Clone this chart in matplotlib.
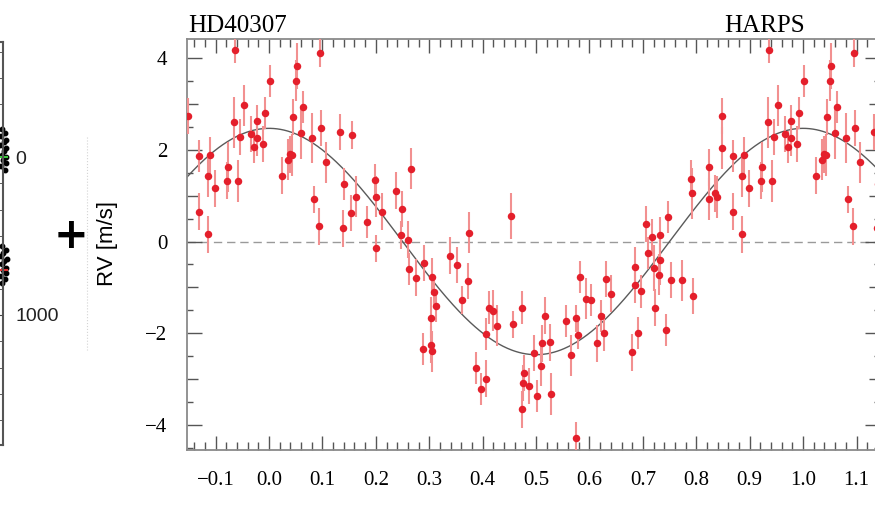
import numpy as np
import matplotlib
matplotlib.use("Agg")
import matplotlib.pyplot as plt
from matplotlib.ticker import MultipleLocator, FuncFormatter
from matplotlib.lines import Line2D

# HD40307 HARPS residual RVs, folded on the orbital period (phase, m/s)
phase = [
    -0.152, -0.132, -0.131, -0.114, -0.110, -0.114, -0.101, -0.077, -0.078, -0.059,
    -0.065, -0.064, -0.054, -0.047, -0.033, -0.029, -0.023, -0.022, -0.011, -0.007,
    0.001, 0.024, 0.035, 0.039, 0.043, 0.044, 0.051, 0.053, 0.060, 0.064,
    0.081, 0.084, 0.093, 0.095, 0.098, 0.107, 0.132, 0.138, 0.141, 0.155,
    0.154, 0.162, 0.183, 0.198, 0.200, 0.201, 0.212, 0.237, 0.247, 0.249,
    0.260, 0.266, 0.291, 0.339, 0.352, 0.375, 0.453, 0.263, 0.275, 0.306,
    0.372, 0.309, 0.361, 0.313, 0.303, 0.411, 0.419, 0.426, 0.406, 0.457,
    0.474, 0.517, 0.556, 0.289, 0.303, 0.306, 0.388, 0.396, 0.407, 0.496,
    0.511, 0.526, 0.509, 0.478, 0.475, 0.487, 0.502, 0.528, 0.473, 0.565,
    0.574, 0.579, 0.582, 0.594, 0.603, 0.575, 0.621, 0.628, 0.615, 0.631,
    0.640, 0.680, 0.690, 0.686, 0.685, 0.697, 0.710, 0.720, 0.731, 0.732,
    0.717, 0.706, 0.732, 0.747, 0.722, 0.743, 0.752, 0.774, 0.793, 0.790,
    0.792, 0.824, 0.824, 0.835, 0.838, 0.849,
]
rv = [
    2.74, 1.86, 0.65, 1.43, 1.88, 0.16, 1.16, 1.63, 1.33, 1.32,
    2.60, 4.19, 2.28, 2.97, 2.35, 2.07, 2.64, 2.27, 2.13, 2.80,
    3.50, 1.44, 1.79, 1.90, 1.89, 2.72, 3.51, 3.83, 2.36, 2.93,
    2.26, 0.92, 0.33, 4.11, 2.48, 1.73, 2.39, 0.29, 1.26, 2.32,
    0.62, 0.98, 0.43, 1.35, -0.15, 0.98, 0.65, 1.11, 0.14, 0.71,
    0.04, 1.59, -0.47, -0.31, -0.51, 0.19, 0.56, -0.60, -0.79, -0.77,
    -0.86, -1.11, -1.28, -1.40, -1.66, -1.44, -1.51, -1.84, -2.02, -1.81,
    -1.44, -1.62, -1.73, -2.35, -2.25, -2.40, -2.77, -3.22, -2.99, -2.43,
    -2.22, -2.20, -2.71, -2.87, -3.09, -3.15, -3.38, -3.33, -3.66, -2.48,
    -1.68, -2.04, -0.77, -1.25, -1.28, -4.29, -1.62, -1.99, -2.22, -0.82,
    -1.14, -2.42, -1.99, -0.56, -0.95, -1.09, -0.26, -0.57, -0.72, -0.40,
    0.09, 0.38, 0.14, 0.54, -1.44, -1.93, -0.84, -0.85, -1.19, 1.37,
    1.05, 1.62, 0.93, 1.05, 0.97, 2.04,
]
rv_err = [
    0.40, 0.35, 0.40, 0.45, 0.40, 0.40, 0.40, 0.55, 0.40, 0.45,
    0.55, 0.30, 0.40, 0.45, 0.40, 0.35, 0.35, 0.40, 0.40, 0.35,
    0.35, 0.40, 0.45, 0.40, 0.45, 0.40, 0.45, 0.50, 0.55, 0.35,
    0.55, 0.30, 0.40, 0.30, 0.40, 0.45, 0.40, 0.40, 0.35, 0.30,
    0.40, 0.45, 0.35, 0.35, 0.30, 0.45, 0.40, 0.40, 0.30, 0.40,
    0.40, 0.45, 0.40, 0.40, 0.40, 0.45, 0.50, 0.35, 0.40, 0.40,
    0.40, 0.35, 0.30, 0.35, 0.45, 0.35, 0.45, 0.45, 0.35, 0.30,
    0.35, 0.40, 0.35, 0.35, 0.40, 0.45, 0.35, 0.35, 0.40, 0.40,
    0.40, 0.40, 0.45, 0.40, 0.40, 0.40, 0.35, 0.45, 0.40, 0.45,
    0.30, 0.30, 0.35, 0.45, 0.35, 0.35, 0.35, 0.40, 0.40, 0.40,
    0.40, 0.40, 0.35, 0.45, 0.40, 0.35, 0.35, 0.50, 0.45, 0.55,
    0.40, 0.40, 0.40, 0.35, 0.40, 0.35, 0.40, 0.45, 0.40, 0.40,
    0.55, 0.40, 0.45, 0.40, 0.45, 0.45,
]

# circular orbit fit
K_AMP = 2.47
PHASE0 = 0.0

x_range = (-0.1536, 1.144)
y_range = (-4.55, 4.42)

# neighbouring panel (only its right edge shows)
side_y = [-175, -150, -130, -110, -95, -75, -55, -35, -15, 0, 20, 40, 60, 80,
          565, 590, 610, 625, 645, 660, 680, 700, 715, 735, 755, 775, 795]
side_x = [99.6, 100.7, 99.3, 101.1, 100.2, 99.0, 101.3, 100.5, 99.5, 101.0, 100.0, 101.2, 99.4, 100.6,
          99.5, 101.1, 100.1, 99.2, 101.4, 100.4, 99.6, 101.0, 100.0, 101.3, 99.3, 100.7, 99.8]
side_green = 0
side_red = 715

SERIF = ["Liberation Serif", "DejaVu Serif"]
SANS = ["Liberation Sans", "DejaVu Sans"]
W, H = 875, 507

fig = plt.figure(figsize=(W / 100, H / 100), dpi=100)
fig.patch.set_facecolor("white")


def fx(px):
    return px / W


def fy(py):
    return 1 - py / H


# ---- main phase-folded panel
ax = fig.add_axes([fx(187), fy(450), fx(880) - fx(187), fy(39) - fy(450)])
ph = np.asarray(phase)
x_all = np.concatenate([ph, ph + 1])
y_all = np.concatenate([rv, rv])
e_all = np.concatenate([rv_err, rv_err])

ax.axhline(0, color="#9a9a9a", lw=1.0, dashes=(6, 3.5), zorder=1)
grid = np.linspace(x_range[0], x_range[1], 600)
ax.plot(grid, K_AMP * np.cos(2 * np.pi * (grid - PHASE0)), color="#5a5a5a", lw=1.0, zorder=2)
ax.errorbar(x_all, y_all, yerr=e_all, fmt="none", ecolor="#f29090", elinewidth=1.5, capsize=0, zorder=3)
ax.plot(x_all, y_all, "o", color="#e41f2b", ms=5.4, mec="#e41f2b", mew=0, zorder=4)

ax.set_xlim(*x_range)
ax.set_ylim(*y_range)

ax.xaxis.set_major_locator(MultipleLocator(0.1))
ax.xaxis.set_minor_locator(MultipleLocator(0.02))
ax.yaxis.set_major_locator(MultipleLocator(1))
ax.yaxis.set_minor_locator(MultipleLocator(0.5))


def xfmt(v, pos):
    return f"{round(v, 1) + 0.0:.1f}".replace("-", "\u2212")


def yfmt(v, pos):
    n = int(round(v))
    if n % 2:
        return ""
    return str(n).replace("-", "\u2212")


ax.xaxis.set_major_formatter(FuncFormatter(xfmt))
ax.yaxis.set_major_formatter(FuncFormatter(yfmt))

ax.tick_params(which="both", direction="in", top=True, right=True, colors="#555555", width=1.0,
               labelcolor="black")
ax.tick_params(which="major", length=10, labelsize=15)
ax.tick_params(which="minor", length=6)
ax.tick_params(axis="x", which="major", pad=15)
ax.tick_params(axis="y", which="major", pad=14)
for lab in ax.get_xticklabels() + ax.get_yticklabels():
    lab.set_family(SERIF)

# even values get the longest ticks, odd values a medium one
for t, v in zip(ax.yaxis.get_major_ticks(), ax.yaxis.get_majorticklocs()):
    size = 11 if int(round(v)) % 2 == 0 else 8
    t.tick1line.set_markersize(size)
    t.tick2line.set_markersize(size)
for t in ax.yaxis.get_minor_ticks():
    t.tick1line.set_markersize(4.5)
    t.tick2line.set_markersize(4.5)

for s in ax.spines.values():
    s.set_color("#8a8a8a")
    s.set_linewidth(1.3)

fig.text(fx(188), fy(32), "HD40307", family=SERIF, fontsize=18, ha="left", va="baseline")
fig.text(fx(805), fy(32), "HARPS", family=SERIF, fontsize=18, ha="right", va="baseline")
fig.text(fx(107), fy(244), "RV [m/s]", family=SANS, fontsize=16, rotation=90, ha="center", va="center")
fig.text(fx(71), fy(236), "+", family="DejaVu Sans", fontweight="bold", fontsize=30, ha="center", va="center")
fig.add_artist(Line2D([fx(87), fx(87)], [fy(137), fy(350)], color="#d4d4d4", lw=0.8, ls=":"))

# ---- neighbouring panel on the left
axl = fig.add_axes([fx(-250), fy(445), fx(253), fy(42) - fy(445)])
axl.set_xlim(0, 100)
axl.set_ylim(1823, -728)
axl.plot(side_x, side_y, "o", color="black", ms=3.2, clip_on=False)
axl.plot([99.0, 101.6], [side_green, side_green], color="#3cc83c", lw=1.5, clip_on=False)
axl.plot([99.0, 101.6], [side_red, side_red], color="#e03030", lw=1.5, clip_on=False)
axl.yaxis.tick_right()
axl.yaxis.set_major_locator(MultipleLocator(1000))
axl.yaxis.set_minor_locator(MultipleLocator(1000 / 6))
axl.set_xticks([])
axl.tick_params(axis="y", which="both", direction="in", left=False, right=True, colors="#444444")
axl.tick_params(axis="y", which="major", length=5, labelsize=14, pad=9)
axl.tick_params(axis="y", which="minor", length=5)
for lab in axl.get_yticklabels():
    lab.set_family(SANS)
    lab.set_color("#222222")
axl.yaxis.set_major_formatter(FuncFormatter(lambda v, p: f"{v:.0f}" if 0 <= v <= 1000 else ""))
for s in axl.spines.values():
    s.set_color("#555555")
    s.set_linewidth(1.5)

fig.savefig("out.png", dpi=100)
